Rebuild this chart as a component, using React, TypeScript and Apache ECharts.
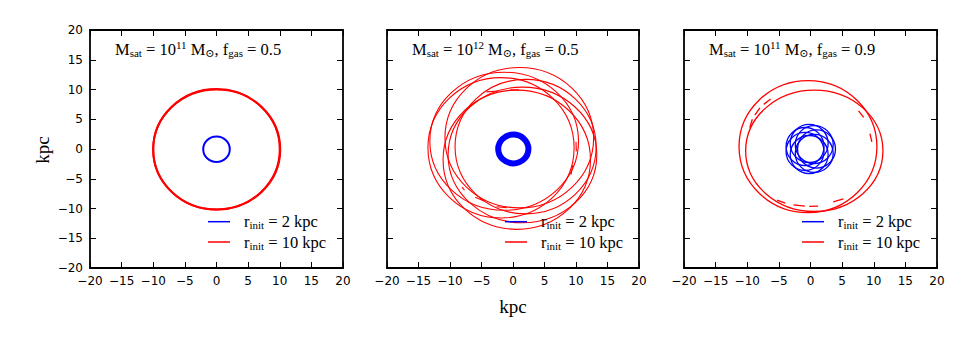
import { useEffect, useRef } from "react";
import * as echarts from "echarts";

// ---------- data (kpc) ----------
const AXIS_MIN = -20;
const AXIS_MAX = 20;
const AXIS_STEP = 5;

const panelMass = ["11", "12", "11"];
const panelGas = ["0.5", "0.5", "0.9"];
const legendNames = ["r_init = 2 kpc", "r_init = 10 kpc"];
const legendRadii = ["2", "10"];

// orbit loops: [centreX, centreY, radiusX, radiusY]
const p1Blue = [[0, -0.05, 2.1, 2.15]];
const p1Red = [
  [0, -0.05, 10.0, 10.12],
  [0.03, -0.08, 10.05, 10.1],
];
const p2Blue = [[0.05, 0, 2.4, 2.42]];
const p2Red = [
  [1.0, 1.9, 11.8, 11.8],
  [-1.4, 1.3, 11.8, 11.6],
  [-1.9, 0.2, 11.6, 11.8],
  [0.6, -1.8, 11.7, 11.7],
  [1.5, -1.0, 11.8, 11.4],
  [2.0, 0.4, 11.2, 11.3],
];
// short orbit fragments: [x1, y1, x2, y2]
const p2RedDashes = [
  [-4.2, 9.6, -2.3, 9.75],
  [-0.5, 9.95, 1.0, 9.95],
  [10.0, 1.2, 10.05, -0.4],
  [9.5, -2.7, 9.2, -4.3],
  [-6.0, -8.1, -4.5, -8.8],
  [-8.1, -6.4, -7.7, -6.9],
  [-2.6, -9.7, -1.0, -9.85],
];
const p3Blue = [
  [0.95, 0, 3.0, 3.2],
  [0.59, 0.74, 3.0, 3.2],
  [-0.21, 0.93, 3.0, 3.2],
  [-0.86, 0.41, 3.0, 3.2],
  [-0.86, -0.41, 3.0, 3.2],
  [-0.21, -0.93, 3.0, 3.2],
  [0.59, -0.74, 3.0, 3.2],
];
const p3Red = [
  [-0.4, 0.4, 10.9, 11.1],
  [0.6, -0.3, 10.85, 10.2],
];
const p3RedDashes = [
  [-9.6, 3.6, -9.2, 5.0],
  [-8.8, 5.7, -8.0, 6.9],
  [-7.4, 7.5, -6.3, 8.4],
  [7.6, 6.4, 8.4, 5.3],
  [9.4, 2.6, 9.7, 1.2],
  [-5.3, -8.6, -4.0, -9.1],
  [-2.7, -9.4, -0.9, -9.6],
  [-0.2, -9.65, 1.2, -9.6],
  [3.6, -8.9, 5.2, -8.4],
];

// ---------- layout ----------
const W = 969;
const H = 346;
const panelLeft = [90, 387, 684];
const panelWidth = [253, 252, 253];
const panelTop = 30;
const panelHeight = 238;

const BLUE = "#0000ff";
const RED = "#ff0000";
const SERIF = "'Liberation Serif', 'DejaVu Serif', serif";

const loopRender = (color: string, width: number) => (_p: any, api: any) => {
  const c = api.coord([api.value(0), api.value(1)]);
  const s = api.size([api.value(2), api.value(3)], [api.value(0), api.value(1)]);
  return {
    type: "ellipse",
    shape: { cx: c[0], cy: c[1], rx: s[0], ry: s[1] },
    style: { fill: "none", stroke: color, lineWidth: width },
    silent: true,
  };
};

const dashRender = (color: string, width: number) => (_p: any, api: any) => {
  const a = api.coord([api.value(0), api.value(1)]);
  const b = api.coord([api.value(2), api.value(3)]);
  return {
    type: "line",
    shape: { x1: a[0], y1: a[1], x2: b[0], y2: b[1] },
    style: { stroke: color, lineWidth: width, fill: "none" },
    silent: true,
  };
};

function buildOption() {
  const grid = panelLeft.map((l, i) => ({
    left: l,
    top: panelTop,
    width: panelWidth[i],
    height: panelHeight,
  }));

  const labelFmt = (v: number) => String(v).replace("-", "\u2212");
  const base = (show: boolean) => ({
    type: "value",
    min: AXIS_MIN,
    max: AXIS_MAX,
    interval: AXIS_STEP,
    splitLine: { show: false },
    axisLine: { show: true, onZero: false, lineStyle: { color: "#000", width: 1.8 } },
    axisTick: { show: true, inside: true, length: 6, lineStyle: { color: "#000", width: 1 } },
    axisLabel: {
      show,
      color: "#000",
      fontSize: 12,
      fontFamily: "DejaVu Sans",
      margin: 7,
      formatter: labelFmt,
    },
  });

  const xAxis: any[] = [];
  const yAxis: any[] = [];
  panelLeft.forEach((_, i) => {
    xAxis.push({ ...base(true), gridIndex: i, position: "bottom" });
    xAxis.push({ ...base(false), gridIndex: i, position: "top" });
    yAxis.push({ ...base(i === 0), gridIndex: i, position: "left" });
    yAxis.push({ ...base(false), gridIndex: i, position: "right" });
  });

  const panels = [
    { blue: p1Blue, red: p1Red, dashes: [] as number[][], bw: 2, rw: 2 },
    { blue: p2Blue, red: p2Red, dashes: p2RedDashes, bw: 6, rw: 1.1 },
    { blue: p3Blue, red: p3Red, dashes: p3RedDashes, bw: 1.3, rw: 1.3 },
  ];

  const series: any[] = [];
  panels.forEach((p, i) => {
    const ax = { xAxisIndex: 2 * i, yAxisIndex: 2 * i };
    series.push({
      type: "custom",
      name: legendNames[0],
      ...ax,
      data: p.blue,
      itemStyle: { color: BLUE },
      renderItem: loopRender(BLUE, p.bw),
      silent: true,
    });
    series.push({
      type: "custom",
      name: legendNames[1],
      ...ax,
      data: p.red,
      itemStyle: { color: RED },
      renderItem: loopRender(RED, p.rw),
      silent: true,
    });
    if (p.dashes.length) {
      series.push({
        type: "custom",
        name: legendNames[1],
        ...ax,
        data: p.dashes,
        itemStyle: { color: RED },
        renderItem: dashRender(RED, p.rw),
        silent: true,
      });
    }
  });

  const tok = { fontFamily: SERIF, color: "#000", fontWeight: "normal", lineHeight: 20 };
  const rich = {
    m: { ...tok, fontSize: 16.5 },
    sub: { ...tok, fontSize: 11, padding: [7, 0, 0, 0] },
    sup: { ...tok, fontSize: 11, padding: [0, 0, 8, 0] },
    r: { ...tok, fontSize: 16.5, padding: [0, 0, 0, 9] },
  };

  const title = panelLeft.map((l, i) => ({
    left: l + 25,
    top: 39,
    padding: 0,
    text: `{m|M}{sub|sat}{m| = 10}{sup|${panelMass[i]}}{m| M}{sub|\u2299}{m|, f}{sub|gas}{m| = ${panelGas[i]}}`,
    textStyle: { rich, fontSize: 16.5, fontFamily: SERIF, color: "#000", fontWeight: "normal" },
  }));

  const legend = panelLeft.map((l) => ({
    orient: "vertical",
    left: l + 118,
    top: 212.7,
    padding: 0,
    itemWidth: 22,
    itemHeight: 1.5,
    itemGap: 2.3,
    icon: "rect",
    selectedMode: false,
    data: [
      { name: legendNames[0], itemStyle: { color: BLUE } },
      { name: legendNames[1], itemStyle: { color: RED } },
    ],
    formatter: (name: string) => {
      const k = legendNames.indexOf(name);
      return `{r|r}{sub|init}{m| = ${legendRadii[k]} kpc}`;
    },
    textStyle: { rich, fontSize: 16.5, fontFamily: SERIF, color: "#000", fontWeight: "normal" },
  }));

  const graphic = [
    {
      type: "text",
      x: 42,
      y: 150,
      rotation: Math.PI / 2,
      style: {
        text: "kpc",
        fontSize: 19,
        fontFamily: SERIF,
        fill: "#000",
        align: "center",
        verticalAlign: "middle",
      },
    },
    {
      type: "text",
      x: 513,
      y: 306,
      style: {
        text: "kpc",
        fontSize: 19,
        fontFamily: SERIF,
        fill: "#000",
        align: "center",
        verticalAlign: "middle",
      },
    },
  ];

  return {
    animation: false,
    backgroundColor: "#fff",
    grid,
    xAxis,
    yAxis,
    series,
    title,
    legend,
    graphic,
  };
}

export default function App() {
  const ref = useRef<HTMLDivElement>(null);
  useEffect(() => {
    if (!ref.current) return;
    const chart = echarts.init(ref.current, null, { renderer: "svg" });
    chart.setOption(buildOption() as any);
    return () => chart.dispose();
  }, []);
  return (
    <div
      ref={ref}
      style={{ position: "absolute", left: 0, top: 0, width: W, height: H, background: "#fff" }}
    />
  );
}
